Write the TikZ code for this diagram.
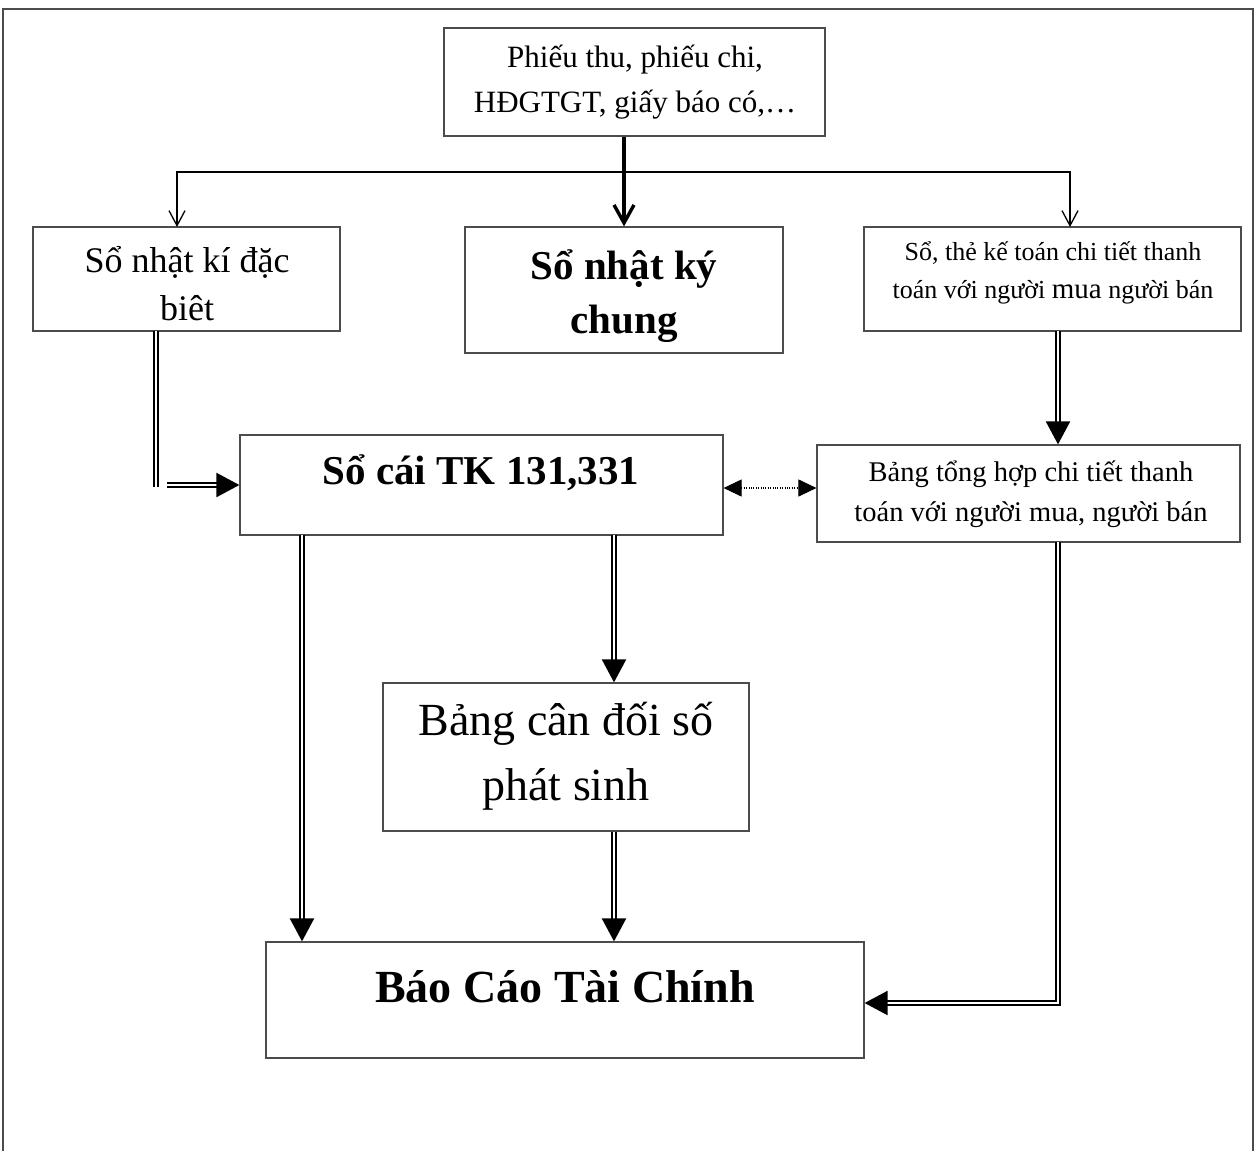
\documentclass[tikz,border=0pt]{standalone}
\usepackage{fontspec}
\setmainfont{Liberation Serif}
\usetikzlibrary{arrows.meta}
\begin{document}
\begin{tikzpicture}[x=1pt,y=-1pt,
  box/.style={draw=black!70, line width=1.2pt, inner sep=0pt},
  txt/.style={align=center, anchor=base, inner sep=0pt},
  frame/.style={draw=black!70, line width=1.2pt},
  thickarr/.style={line width=3.8pt, -{Straight Barb[length=18pt,width=20pt,line width=3.4pt]}},
  thinarr/.style={line width=1.4pt, -{Straight Barb[length=15pt,width=16pt,line width=1.3pt]}},
  dblline/.style={double=white, double distance=2.2pt, line width=2.1pt},
  dbl/.style={dblline, -{Triangle[length=23pt,width=24pt]}},
  dotarr/.style={line width=1.1pt, dash pattern=on 1.1pt off 1.3pt,
    {Triangle[length=18pt,width=17pt]}-{Triangle[length=18pt,width=17pt]}}
]
\useasboundingbox (0,0) rectangle (1260,1151);
\draw[frame] (3,1151) -- (3,9) -- (1253,9) -- (1253,1151);

% boxes
\node[box, minimum width=381pt, minimum height=108pt] (top) at (634.5,82) {};
\node[box, minimum width=307pt, minimum height=104pt] (lbox) at (186.5,279) {};
\node[box, minimum width=318pt, minimum height=126pt] (mbox) at (624,290) {};
\node[box, minimum width=377pt, minimum height=104pt] (rbox) at (1052.5,279) {};
\node[box, minimum width=483pt, minimum height=100pt] (socai) at (481.5,485) {};
\node[box, minimum width=423pt, minimum height=97pt] (btth) at (1028.5,493.5) {};
\node[box, minimum width=366pt, minimum height=148pt] (bcd) at (566,757) {};
\node[box, minimum width=598pt, minimum height=116pt] (bctc) at (565,1000) {};

% texts (anchor base = baseline of the last line)
\node[txt, font=\fontsize{31}{45}\selectfont] (ttop) at (635,112) {Phiếu thu, phiếu chi,\\HĐGTGT, giấy báo có,…};
\node[txt, font=\fontsize{36}{48}\selectfont] (tl) at (187,320) {Sổ nhật kí đặc\\biêt};
\node[txt, font=\fontsize{41}{54}\selectfont\bfseries] (tm) at (624,333) {Sổ nhật ký\\chung};
\node[txt, font=\fontsize{26}{38}\selectfont] (tr) at (1053,298) {Sổ, thẻ kế toán chi tiết thanh\\toán với người {\fontsize{29}{38}\selectfont mua} người bán};
\node[txt, font=\fontsize{41}{50}\selectfont\bfseries] (ts) at (481,484) {Sổ cái TK 131,331};
\node[txt, font=\fontsize{28.5}{40}\selectfont] (tb) at (1031,521) {Bảng tổng hợp chi tiết thanh\\toán với người mua, người bán};
\node[txt, font=\fontsize{46}{65}\selectfont] (tc) at (566,800) {Bảng cân đối số\\phát sinh};
\node[txt, font=\fontsize{46}{56}\selectfont\bfseries] (tf) at (565,1002) {Báo Cáo Tài Chính};

% coordinates
\coordinate (split) at (624,172);
\coordinate (lin) at (177,227);
\coordinate (rin) at (1070,227);
\coordinate (lv1) at (156,331);
\coordinate (lv2) at (156,487);
\coordinate (lh1) at (167,485);
\coordinate (rv) at (1058,331);
\coordinate (dm) at (770,488);
\coordinate (c1) at (302,535);
\coordinate (c2) at (614,535);
\coordinate (c3) at (1058,542);
\coordinate (c4) at (960,1003);

% connectors
\draw[thickarr] (top.south -| mbox.north) -- (mbox.north);
\draw[thinarr] (split) -| (lin);
\draw[thinarr] (split) -| (rin);
\draw[dblline] (lv1) -- (lv2);
\draw[dbl] (lh1) -- (lh1 -| socai.west);
\draw[dbl] (rv) -- (rv |- btth.north);
\draw[dotarr] (dm -| socai.east) -- (dm -| btth.west);
\draw[dbl] (c1) -- (c1 |- bctc.north);
\draw[dbl] (c2) -- (c2 |- bcd.north);
\draw[dbl] (c2 |- bcd.south) -- (c2 |- bctc.north);
\draw[dbl] (c3) |- (c4 -| bctc.east);
\end{tikzpicture}
\end{document}
